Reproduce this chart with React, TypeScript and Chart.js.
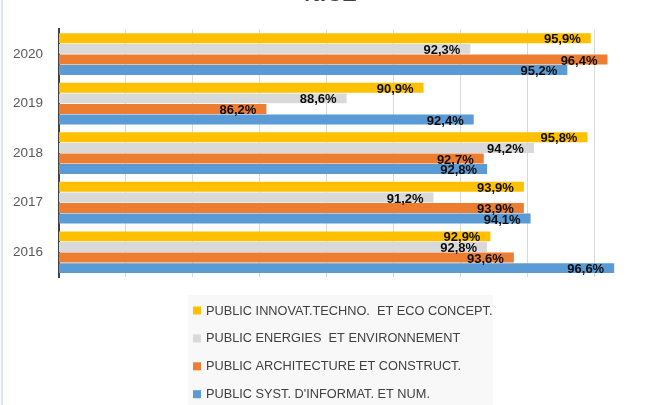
import React, { useEffect, useRef } from "react";
import { Chart, registerables } from "chart.js";

Chart.register(...registerables);

const categories = ["2020", "2019", "2018", "2017", "2016"];
const seriesNames = [
  "PUBLIC INNOVAT.TECHNO.  ET ECO CONCEPT.",
  "PUBLIC ENERGIES  ET ENVIRONNEMENT",
  "PUBLIC ARCHITECTURE ET CONSTRUCT.",
  "PUBLIC SYST. D'INFORMAT. ET NUM.",
];
const innovatValues = [95.9, 90.9, 95.8, 93.9, 92.9];
const energiesValues = [92.3, 88.6, 94.2, 91.2, 92.8];
const architectureValues = [96.4, 86.2, 92.7, 93.9, 93.6];
const systInfoValues = [95.2, 92.4, 92.8, 94.1, 96.6];
const seriesColors = ["#FFC000", "#D9D9D9", "#ED7D31", "#5B9BD5"];
const xMin = 80;
const xMax = 98;
const xStep = 2;

const FONT = "'Liberation Sans', Arial, sans-serif";
const SHIFT = 18;

const valueLabels = {
  id: "valueLabels",
  afterDatasetsDraw(chart: any) {
    const ctx = chart.ctx;
    ctx.save();
    ctx.font = `bold 13px ${FONT}`;
    ctx.fillStyle = "#0d0d0d";
    ctx.textAlign = "right";
    ctx.textBaseline = "middle";
    chart.data.datasets.forEach((ds: any, i: number) => {
      const meta = chart.getDatasetMeta(i);
      meta.data.forEach((bar: any, j: number) => {
        const v = ds.data[j];
        const txt = v.toFixed(1).replace(".", ",") + "%";
        ctx.fillText(txt, bar.x - 10, bar.y + 1.5);
      });
    });
    ctx.restore();
  },
};

const customLegend = {
  id: "customLegend",
  afterDraw(chart: any) {
    const ctx = chart.ctx;
    const area = chart.chartArea;
    const top = area.bottom + 18;
    ctx.save();
    ctx.fillStyle = "#f8f8f8";
    ctx.fillRect(188, top, 305, chart.height - top);
    ctx.font = `12.75px ${FONT}`;
    ctx.textAlign = "left";
    ctx.textBaseline = "middle";
    chart.data.datasets.forEach((ds: any, i: number) => {
      const cy = top + 15.5 + i * 27.9;
      ctx.fillStyle = ds.backgroundColor;
      ctx.fillRect(193, cy - 4, 8, 8);
      ctx.fillStyle = "#404040";
      ctx.fillText(ds.label, 206, cy + 0.5);
    });
    ctx.restore();
  },
};

export default function App() {
  const ref = useRef<HTMLCanvasElement | null>(null);

  useEffect(() => {
    if (!ref.current) return;
    const seriesValues = [innovatValues, energiesValues, architectureValues, systInfoValues];
    const chart = new Chart(ref.current, {
      type: "bar",
      data: {
        labels: categories,
        datasets: seriesNames.map((name, i) => ({
          label: name,
          data: seriesValues[i],
          backgroundColor: seriesColors[i],
          borderWidth: 0,
          categoryPercentage: 0.855,
          barPercentage: 0.94,
        })),
      },
      options: {
        indexAxis: "y",
        responsive: false,
        animation: false,
        layout: { padding: { left: 0, right: 0, top: 0, bottom: 128 } },
        plugins: {
          legend: { display: false },
          tooltip: { enabled: false },
          title: {
            display: true,
            text: "NICE",
            color: "#404040",
            font: { family: FONT, size: 22, weight: "bold" },
            padding: { top: 0, bottom: 21 },
          },
        },
        scales: {
          x: {
            type: "linear",
            min: xMin,
            max: xMax,
            ticks: { display: false, stepSize: xStep },
            grid: { color: "#d9d9d9", lineWidth: 1, drawTicks: false },
            border: { display: false },
            afterFit: (scale: any) => {
              scale.height = 0;
            },
          },
          y: {
            type: "category",
            ticks: {
              color: "#595959",
              font: { family: FONT, size: 13.5 },
              padding: 16,
            },
            grid: { display: false, drawTicks: false },
            border: { display: true, color: "#404040", width: 2 },
            afterFit: (scale: any) => {
              scale.width = 59;
            },
          },
        },
      },
      plugins: [valueLabels, customLegend],
    });
    return () => chart.destroy();
  }, []);

  return (
    <div
      style={{
        position: "fixed",
        left: 0,
        top: 0,
        width: 661,
        height: 405,
        overflow: "hidden",
        background: "#ffffff",
      }}
    >
      <canvas
        ref={ref}
        width={661}
        height={405 + SHIFT}
        style={{ display: "block", marginTop: -SHIFT, width: 661, height: 405 + SHIFT }}
      />
      <div
        style={{
          position: "absolute",
          left: 1,
          top: 0,
          width: 2,
          height: 405,
          background: "#dce6f2",
        }}
      />
    </div>
  );
}
